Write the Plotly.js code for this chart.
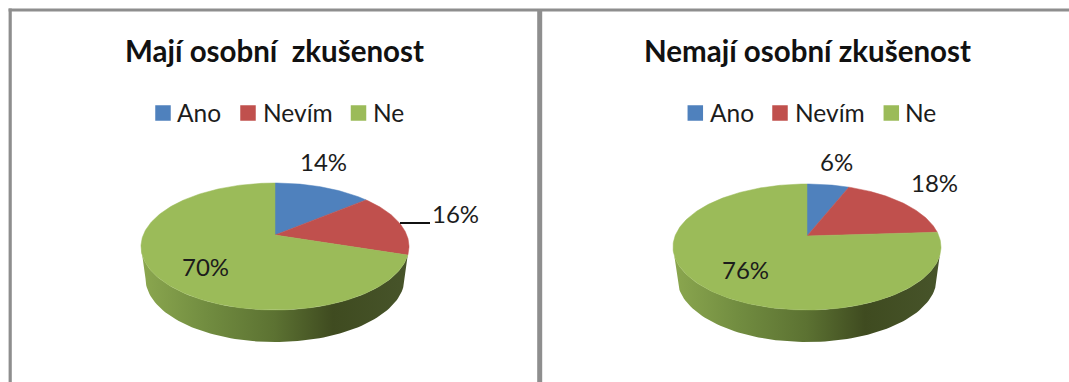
<!DOCTYPE html>
<html><head><meta charset="utf-8">
<script src="https://cdn.plot.ly/plotly-3.0.1.min.js"></script>
<style>html,body{margin:0;padding:0;background:#fff;overflow:hidden}</style>
</head><body><div id="chart" style="width:1069px;height:382px"></div>
<script>
const categories = ["Ano", "Nevím", "Ne"];
const majiValues = [14, 16, 70];
const nemajiValues = [6, 18, 76];
const majiLabels = ["14%", "16%", "70%"];
const nemajiLabels = ["6%", "18%", "76%"];
const sliceColors = ["#4f81bd", "#c0504d", "#9bbb59"];
const wallScale = [[0,"#8ba74f"],[0.25,"#718c40"],[0.5,"#5c7232"],[0.72,"#3f4b20"],[1,"#47542a"]];
const FONT = "Lato, 'Liberation Sans', sans-serif";
const INK = "#1c1c1c";

const panels = [
  {title:"Mají osobní&nbsp; zkušenost", titleX:274, values:majiValues, labels:majiLabels,
   cx:275, cy:246.5, rx:134, ry:63.5, apex:235,
   labelPos:[[323,161],[455,213],[205,266]],
   swatch:[163,248,358.5], legendText:[177.3,262.7,373]},
  {title:"Nemají osobní zkušenost", titleX:807, values:nemajiValues, labels:nemajiLabels,
   cx:807, cy:247, rx:134, ry:63, apex:236,
   labelPos:[[836.6,161],[934,182],[745,269]],
   swatch:[695.3,780,891.3], legendText:[709.8,795.4,905.4]}
];
const DEPTH = 32, BOTTOM_RX_DELTA = 4.5;

function project(p, deg) {
  const a = (p.cy - p.apex) / p.ry, t = deg * Math.PI / 180;
  const s = Math.sin(t), c = Math.cos(t), d = 1 + a * c;
  return [p.cx + p.rx * s * Math.sqrt(1 - a * a) / d, p.cy - p.ry * (c + a) / d];
}

const traces = [], annotations = [];
panels.forEach(p => {
  // side wall of the disc: front part of the top rim, back along the bottom rim
  const wx = [], wy = [];
  for (let t = 8; t <= 180; t += 2) {
    const r = t * Math.PI / 180;
    wx.push(p.cx + p.rx * Math.cos(r)); wy.push(p.cy + p.ry * Math.sin(r));
  }
  for (let t = 180; t >= 8; t -= 2) {
    const r = t * Math.PI / 180;
    wx.push(p.cx + (p.rx - BOTTOM_RX_DELTA) * Math.cos(r));
    wy.push(p.cy + DEPTH + p.ry * Math.sin(r));
  }
  traces.push({x:wx, y:wy, mode:"lines", fill:"toself", line:{width:0},
    fillgradient:{type:"horizontal", colorscale:wallScale}, hoverinfo:"skip", showlegend:false});

  // top face slices
  const total = p.values.reduce((a, b) => a + b, 0);
  let start = 0;
  p.values.forEach((v, i) => {
    const end = start + v / total * 360;
    const xs = [p.cx], ys = [p.apex];
    const n = Math.max(4, Math.ceil(end - start));
    for (let k = 0; k <= n; k++) {
      const q = project(p, start + (end - start) * k / n);
      xs.push(q[0]); ys.push(q[1]);
    }
    xs.push(p.cx); ys.push(p.apex);
    traces.push({x:xs, y:ys, mode:"lines", fill:"toself", fillcolor:sliceColors[i],
      line:{width:0.5, color:sliceColors[i]}, name:categories[i], hoverinfo:"name", showlegend:false});
    start = end;
    annotations.push({x:p.labelPos[i][0], y:p.labelPos[i][1], text:p.labels[i], showarrow:false,
      xanchor:"center", yanchor:"middle", font:{family:FONT, size:24, color:INK}});
    annotations.push({x:p.legendText[i], y:112, text:categories[i], showarrow:false,
      xanchor:"left", yanchor:"middle", xshift:-2, font:{family:FONT, size:24.5, color:INK}});
  });
  // legend swatches
  traces.push({x:p.swatch, y:[113,113,113], mode:"markers", hoverinfo:"skip", showlegend:false,
    marker:{symbol:"square", size:15.5, color:sliceColors, line:{width:0}}});
  annotations.push({x:p.titleX, y:50, text:"<b>"+p.title+"</b>", showarrow:false,
    xanchor:"center", yanchor:"middle", font:{family:FONT, size:29.5, color:"#111"}});
});

const FRAME = "#8e8e8e";
const layout = {
  width:1069, height:382, margin:{l:0,r:0,t:0,b:0}, showlegend:false,
  paper_bgcolor:"#fff", plot_bgcolor:"#fff",
  xaxis:{range:[0,1069], visible:false, fixedrange:true},
  yaxis:{range:[382,0], visible:false, fixedrange:true},
  annotations:annotations,
  shapes:[
    {type:"line", x0:10.2, x1:10.2, y0:8.5, y1:382, line:{color:FRAME, width:3.2}},
    {type:"line", x0:8.6, x1:1069, y0:10, y1:10, line:{color:FRAME, width:3}},
    {type:"line", x0:539.7, x1:539.7, y0:9, y1:382, line:{color:FRAME, width:5}},
    {type:"line", x0:400, x1:430, y0:223, y1:223, line:{color:"#111", width:2}}
  ]
};
Plotly.newPlot("chart", traces, layout, {displayModeBar:false, staticPlot:true});
</script></body></html>
